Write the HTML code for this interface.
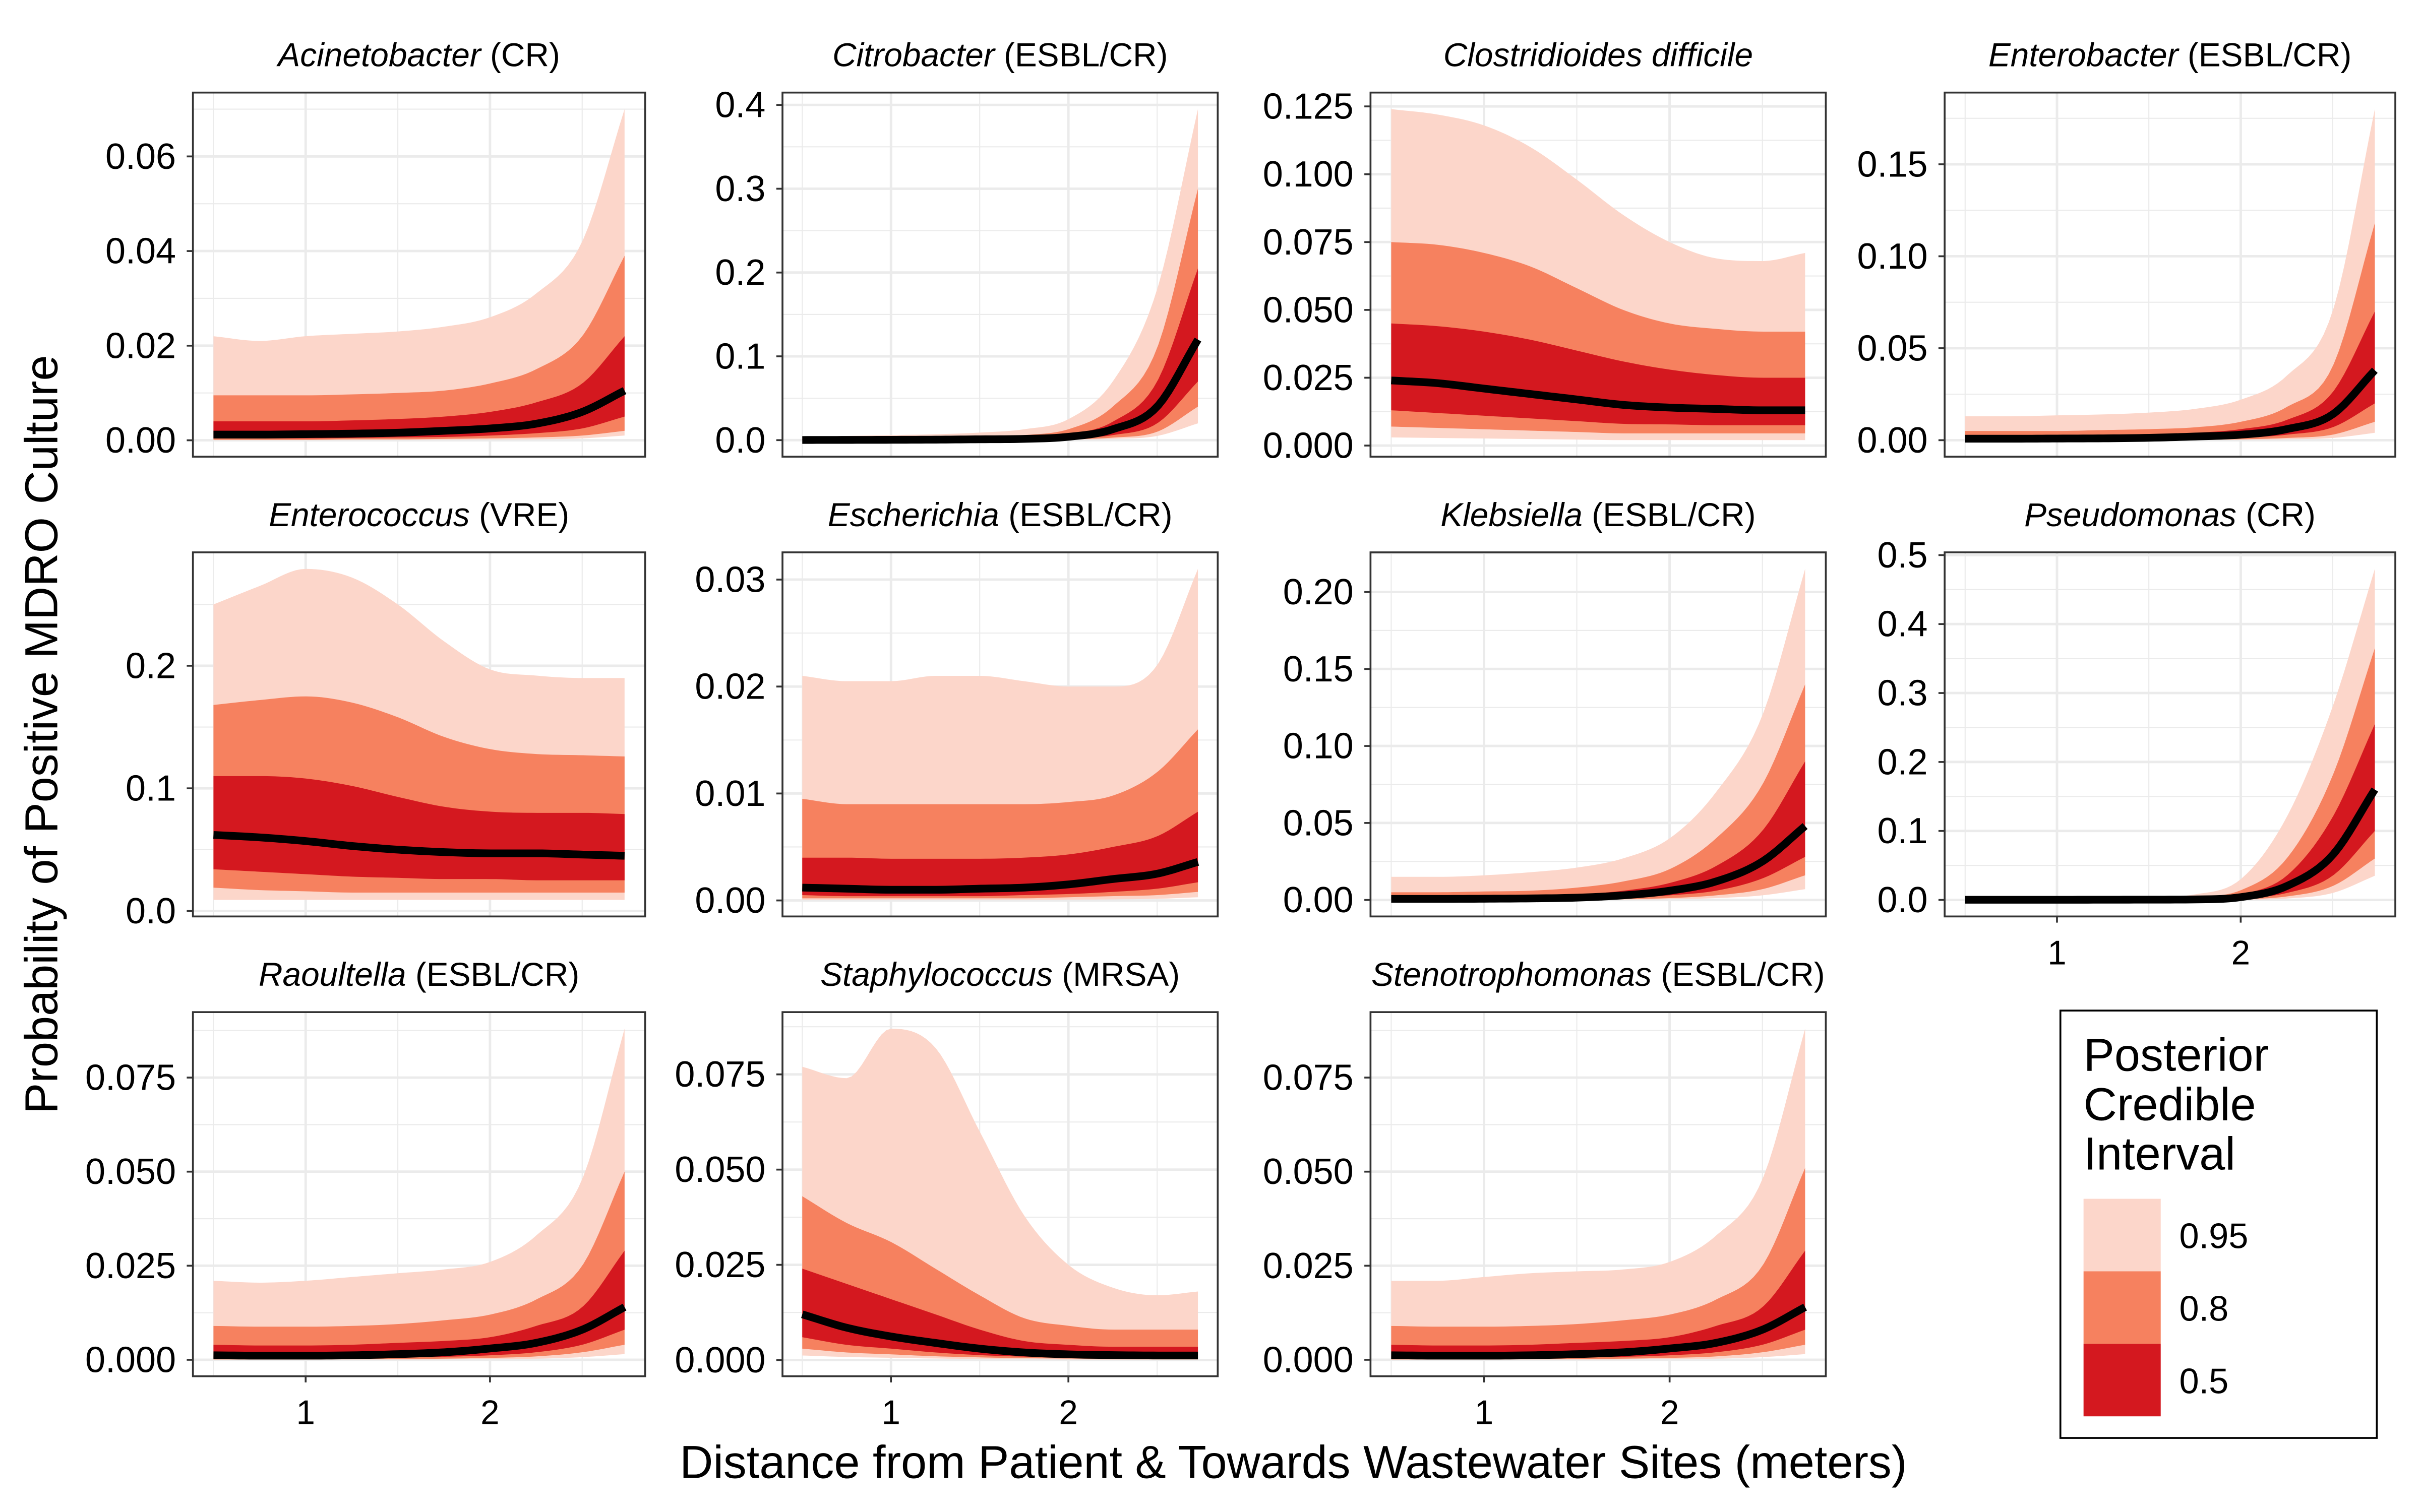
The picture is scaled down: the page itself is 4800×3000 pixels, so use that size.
<!DOCTYPE html>
<html><head><meta charset="utf-8"><style>
html,body{margin:0;padding:0;background:#fff}
svg{display:block}
text{font-family:"Liberation Sans",Arial,sans-serif;fill:#000}
</style></head><body>
<svg id="chart" width="4800" height="3000" viewBox="0 0 1568 980" xmlns="http://www.w3.org/2000/svg">
<rect x="0" y="0" width="1568" height="980" fill="#fff"/>
<g id="panels"></g>
<text transform="translate(37,476) rotate(-90)" text-anchor="middle" font-size="30">Probability of Positive MDRO Culture</text>
<text x="838" y="958" text-anchor="middle" font-size="30">Distance from Patient &amp; Towards Wastewater Sites (meters)</text>
<g>
<rect x="1335" y="655" width="205" height="277" fill="#fff" stroke="#000" stroke-width="1.2"/>
<text font-size="30" x="1350" y="694">Posterior</text>
<text font-size="30" x="1350" y="726">Credible</text>
<text font-size="30" x="1350" y="758">Interval</text>
<rect x="1350" y="777" width="50" height="47" fill="#FCD6CA"/>
<rect x="1350" y="824" width="50" height="47" fill="#F6815F"/>
<rect x="1350" y="871" width="50" height="47" fill="#D4181F"/>
<text x="1412" y="809" font-size="23">0.95</text>
<text x="1412" y="856" font-size="23">0.8</text>
<text x="1412" y="903" font-size="23">0.5</text>
</g>
</svg>
<script>
const xs = [0.5,0.75,1,1.25,1.5,1.75,2,2.25,2.5,2.73];
const genus = ["Acinetobacter","Citrobacter","Clostridioides difficile","Enterobacter","Enterococcus","Escherichia","Klebsiella","Pseudomonas","Raoultella","Staphylococcus","Stenotrophomonas"];
const suffix = [" (CR)"," (ESBL/CR)",""," (ESBL/CR)"," (VRE)"," (ESBL/CR)"," (ESBL/CR)"," (CR)"," (ESBL/CR)"," (MRSA)"," (ESBL/CR)"];
const hi95 = [
[0.022,0.021,0.022,0.0225,0.023,0.024,0.026,0.031,0.042,0.070],
[0.004,0.005,0.006,0.007,0.009,0.013,0.025,0.07,0.18,0.395],
[0.124,0.122,0.118,0.11,0.098,0.085,0.075,0.069,0.068,0.071],
[0.013,0.013,0.0135,0.014,0.015,0.017,0.022,0.035,0.07,0.18],
[0.25,0.265,0.279,0.272,0.25,0.22,0.197,0.192,0.19,0.19],
[0.021,0.0205,0.0205,0.021,0.021,0.0205,0.020,0.020,0.022,0.031],
[0.015,0.015,0.016,0.018,0.021,0.027,0.04,0.07,0.12,0.215],
[0.002,0.002,0.0025,0.003,0.004,0.008,0.03,0.12,0.28,0.48],
[0.021,0.0205,0.021,0.022,0.023,0.024,0.026,0.033,0.048,0.088],
[0.077,0.074,0.087,0.082,0.06,0.038,0.025,0.019,0.017,0.018],
[0.021,0.021,0.022,0.023,0.0235,0.024,0.026,0.033,0.048,0.088]];
const hi80 = [
[0.0095,0.0095,0.0095,0.0097,0.010,0.0105,0.012,0.015,0.022,0.039],
[0.001,0.0015,0.002,0.0025,0.0035,0.006,0.013,0.04,0.11,0.30],
[0.075,0.074,0.071,0.066,0.058,0.050,0.045,0.043,0.042,0.042],
[0.005,0.005,0.005,0.0055,0.006,0.007,0.01,0.018,0.04,0.118],
[0.168,0.172,0.175,0.17,0.158,0.142,0.132,0.128,0.127,0.126],
[0.0095,0.009,0.009,0.009,0.009,0.009,0.0092,0.0098,0.012,0.016],
[0.005,0.005,0.0055,0.006,0.008,0.012,0.02,0.04,0.075,0.14],
[0.0008,0.0008,0.001,0.0012,0.0018,0.004,0.014,0.06,0.18,0.365],
[0.009,0.0088,0.0088,0.009,0.0095,0.0105,0.012,0.016,0.025,0.050],
[0.043,0.036,0.031,0.024,0.017,0.011,0.009,0.008,0.008,0.008],
[0.009,0.0088,0.0088,0.009,0.0095,0.0105,0.012,0.016,0.025,0.051]];
const hi50 = [
[0.004,0.004,0.004,0.0042,0.0045,0.005,0.006,0.008,0.012,0.022],
[0.0005,0.0007,0.001,0.0012,0.002,0.003,0.007,0.022,0.07,0.205],
[0.045,0.044,0.042,0.039,0.035,0.031,0.028,0.026,0.025,0.025],
[0.002,0.002,0.002,0.0025,0.003,0.004,0.006,0.011,0.026,0.07],
[0.11,0.11,0.108,0.102,0.093,0.085,0.081,0.08,0.08,0.079],
[0.004,0.004,0.0039,0.0039,0.0039,0.004,0.0043,0.005,0.006,0.0083],
[0.002,0.002,0.002,0.0025,0.0035,0.006,0.011,0.022,0.045,0.09],
[0.0004,0.0004,0.0005,0.0006,0.001,0.002,0.008,0.035,0.12,0.255],
[0.004,0.0038,0.0038,0.004,0.0045,0.005,0.006,0.009,0.014,0.029],
[0.024,0.020,0.016,0.012,0.008,0.005,0.004,0.0035,0.0035,0.0035],
[0.004,0.0038,0.0038,0.004,0.0045,0.005,0.006,0.009,0.014,0.029]];
const med = [
[0.0012,0.0012,0.0013,0.0014,0.0016,0.002,0.0025,0.0035,0.006,0.0105],
[0.0002,0.0003,0.0004,0.0006,0.001,0.0015,0.004,0.013,0.04,0.12],
[0.024,0.023,0.021,0.019,0.017,0.015,0.014,0.0135,0.013,0.013],
[0.0008,0.0008,0.0009,0.001,0.0013,0.002,0.003,0.006,0.014,0.038],
[0.062,0.06,0.057,0.053,0.05,0.048,0.047,0.047,0.046,0.045],
[0.0012,0.0011,0.001,0.001,0.0011,0.0012,0.0015,0.002,0.0025,0.0036],
[0.0007,0.0007,0.0008,0.001,0.0015,0.003,0.006,0.012,0.025,0.048],
[0.0002,0.0002,0.0002,0.0003,0.0004,0.0007,0.004,0.02,0.065,0.16],
[0.0012,0.0011,0.0011,0.0012,0.0015,0.002,0.003,0.0045,0.008,0.014],
[0.012,0.0085,0.0062,0.0045,0.003,0.002,0.0015,0.0013,0.0012,0.0012],
[0.0012,0.0011,0.0011,0.0012,0.0015,0.002,0.003,0.0045,0.008,0.014]];
const lo50 = [
[0.0004,0.0004,0.0004,0.0005,0.0006,0.0007,0.001,0.0015,0.0025,0.005],
[0.0001,0.0001,0.0002,0.0002,0.0004,0.0006,0.002,0.006,0.02,0.07],
[0.013,0.012,0.011,0.010,0.009,0.008,0.0078,0.0075,0.0075,0.0075],
[0.0003,0.0003,0.0003,0.0004,0.0005,0.0008,0.0012,0.003,0.007,0.02],
[0.034,0.032,0.030,0.028,0.027,0.026,0.026,0.025,0.025,0.025],
[0.0005,0.0004,0.0004,0.0004,0.0004,0.0005,0.0006,0.0008,0.0011,0.0017],
[0.0003,0.0003,0.0003,0.0004,0.0006,0.0012,0.003,0.006,0.014,0.028],
[0.0001,0.0001,0.0001,0.0001,0.0002,0.0003,0.002,0.01,0.035,0.10],
[0.0004,0.0004,0.0004,0.0005,0.0006,0.0008,0.0012,0.002,0.004,0.008],
[0.006,0.004,0.003,0.002,0.0013,0.0009,0.0007,0.0006,0.0005,0.0005],
[0.0004,0.0004,0.0004,0.0005,0.0006,0.0008,0.0012,0.002,0.004,0.008]];
const lo80 = [
[0.0001,0.0001,0.0001,0.0002,0.0002,0.0003,0.0004,0.0006,0.001,0.002],
[0.00005,0.00005,0.0001,0.0001,0.0002,0.0003,0.001,0.003,0.01,0.04],
[0.007,0.0065,0.006,0.0055,0.005,0.0045,0.0045,0.0045,0.0045,0.0045],
[0.0001,0.0001,0.0001,0.0002,0.0002,0.0003,0.0005,0.0012,0.003,0.01],
[0.019,0.017,0.016,0.015,0.015,0.015,0.015,0.015,0.015,0.015],
[0.0002,0.0002,0.0002,0.0002,0.0002,0.0002,0.0003,0.0004,0.0005,0.0008],
[0.0001,0.0001,0.0001,0.0002,0.0003,0.0005,0.0012,0.003,0.007,0.016],
[0.00005,0.00005,0.00005,0.00005,0.0001,0.0002,0.001,0.005,0.02,0.06],
[0.0001,0.0001,0.0001,0.0002,0.0002,0.0003,0.0005,0.0009,0.002,0.004],
[0.003,0.002,0.0015,0.001,0.0007,0.0005,0.0004,0.0003,0.0003,0.0003],
[0.0001,0.0001,0.0001,0.0002,0.0002,0.0003,0.0005,0.0009,0.002,0.004]];
const lo95 = [
[0.00003,0.00003,0.00003,0.00005,0.00006,0.0001,0.00015,0.0002,0.0004,0.001],
[0.00001,0.00001,0.00002,0.00003,0.00005,0.0001,0.0005,0.0015,0.005,0.02],
[0.003,0.0028,0.0026,0.0024,0.0022,0.002,0.002,0.002,0.002,0.002],
[0.00003,0.00003,0.00003,0.00005,0.00006,0.0001,0.0002,0.0005,0.0012,0.004],
[0.009,0.009,0.009,0.009,0.009,0.009,0.009,0.009,0.009,0.009],
[0.00005,0.00005,0.00005,0.00005,0.00005,0.00006,0.00008,0.0001,0.00015,0.0003],
[0.00003,0.00003,0.00003,0.00005,0.0001,0.0002,0.0005,0.0012,0.003,0.007],
[0.00001,0.00001,0.00001,0.00001,0.00003,0.00005,0.0003,0.002,0.01,0.035],
[0.00003,0.00003,0.00003,0.00005,0.00006,0.0001,0.0002,0.0003,0.0007,0.0015],
[0.0012,0.0008,0.0006,0.0004,0.0003,0.0002,0.00015,0.0001,0.0001,0.0001],
[0.00003,0.00003,0.00003,0.00005,0.00006,0.0001,0.0002,0.0003,0.0007,0.0015]];
const yTicks = [
[0,0.02,0.04,0.06],[0,0.1,0.2,0.3,0.4],[0,0.025,0.05,0.075,0.1,0.125],[0,0.05,0.10,0.15],
[0,0.1,0.2],[0,0.01,0.02,0.03],[0,0.05,0.10,0.15,0.20],[0,0.1,0.2,0.3,0.4,0.5],
[0,0.025,0.05,0.075],[0,0.025,0.05,0.075],[0,0.025,0.05,0.075]];
const yDigits = [2,1,3,2,1,2,2,1,3,3,3];
const xTicks = [1,2];
const xTickLabels = ["1","2"];

const colL = [125,507,888,1260], colR = [418,789,1183,1552];
const rowT = [60,358,656], PH = 236;
const NS = "http://www.w3.org/2000/svg";
const root = document.getElementById('panels');
function mk(tag, attrs, parent){const e=document.createElementNS(NS,tag);for(const k in attrs)e.setAttribute(k,attrs[k]);(parent||root).appendChild(e);return e;}
const xMin=0.5, xMax=2.73, xr=xMax-xMin, xd0=xMin-0.05*xr, xd1=xMax+0.05*xr;

function monotone(X,Y){
  const n=X.length, d=[], m=new Array(n);
  for(let i=0;i<n-1;i++) d.push((Y[i+1]-Y[i])/(X[i+1]-X[i]));
  m[0]=d[0]; m[n-1]=d[n-2];
  for(let i=1;i<n-1;i++){ m[i]=(d[i-1]*d[i]<=0)?0:(d[i-1]+d[i])/2; }
  for(let i=0;i<n-1;i++){
    if(d[i]===0){m[i]=0;m[i+1]=0;continue;}
    const a=m[i]/d[i], b=m[i+1]/d[i], s=a*a+b*b;
    if(s>9){const t=3/Math.sqrt(s); m[i]=t*a*d[i]; m[i+1]=t*b*d[i];}
  }
  return x=>{
    let i=0; while(i<n-2 && x>X[i+1]) i++;
    const h=X[i+1]-X[i], t=(x-X[i])/h, t2=t*t, t3=t2*t;
    return (2*t3-3*t2+1)*Y[i]+(t3-2*t2+t)*h*m[i]+(-2*t3+3*t2)*Y[i+1]+(t3-t2)*h*m[i+1];
  };
}
const NSAMP=80;
const sampX=[]; for(let k=0;k<=NSAMP;k++) sampX.push(xMin+(xMax-xMin)*k/NSAMP);

for(let p=0;p<11;p++){
  const r=Math.floor(p/4), c=p%4;
  const L=colL[c], R=colR[c], T=rowT[r], B=T+PH;
  let ymin=Math.min(...lo95[p]), ymax=Math.max(...hi95[p]);
  const yr=ymax-ymin; const y0=ymin-0.05*yr, y1=ymax+0.05*yr;
  const sx=v=>L+(v-xd0)/(xd1-xd0)*(R-L);
  const sy=v=>B-(v-y0)/(y1-y0)*PH;
  const g=mk('g',{});
  
  
  mk('rect',{x:L,y:T,width:R-L,height:PH,fill:'#fff'},g);
  const clip=mk('clipPath',{id:'cp'+p},g); mk('rect',{x:L,y:T,width:R-L,height:PH},clip);
  const gg=mk('g',{'clip-path':'url(#cp'+p+')'},g);
  const yt=yTicks[p], step=yt[1]-yt[0];
  for(let v=yt[0]-step/2; v<=y1; v+=step){ if(v<y0) continue; mk('line',{x1:L,x2:R,y1:sy(v),y2:sy(v),stroke:'#EBEBEB','stroke-width':0.7},gg);}
  [0.5,1.5,2.5].forEach(v=>mk('line',{x1:sx(v),x2:sx(v),y1:T,y2:B,stroke:'#EBEBEB','stroke-width':0.7},gg));
  yt.forEach(v=>mk('line',{x1:L,x2:R,y1:sy(v),y2:sy(v),stroke:'#EBEBEB','stroke-width':1.6},gg));
  xTicks.forEach(v=>mk('line',{x1:sx(v),x2:sx(v),y1:T,y2:B,stroke:'#EBEBEB','stroke-width':1.6},gg));
  const curve=arr=>{const f=monotone(xs,arr[p]); return sampX.map(x=>[sx(x),sy(f(x))]);};
  const band=(lo,hi,col,name)=>{
    const top=curve(hi), bot=curve(lo).reverse();
    const d='M'+top.concat(bot).map(q=>q[0].toFixed(2)+','+q[1].toFixed(2)).join('L')+'Z';
    const e=mk('path',{d:d,fill:col},gg);
    
    
  };
  band(lo95,hi95,'#FCD6CA','band-95');
  band(lo80,hi80,'#F6815F','band-80');
  band(lo50,hi50,'#D4181F','band-50');
  const mc=curve(med);
  const ml=mk('path',{d:'M'+mc.map(q=>q[0].toFixed(2)+','+q[1].toFixed(2)).join('L'),fill:'none',stroke:'#000','stroke-width':5,'stroke-linejoin':'round'},gg);
  
  
  mk('rect',{x:L,y:T,width:R-L,height:PH,fill:'none',stroke:'#333','stroke-width':1.2},g);
  yt.forEach(v=>{
    mk('line',{x1:L-4,x2:L,y1:sy(v),y2:sy(v),stroke:'#333','stroke-width':1.2},g);
    const t=mk('text',{x:L-11,y:sy(v)+8,'text-anchor':'end','font-size':23.5,fill:'#000'},g);
    t.textContent=v.toFixed(yDigits[p]);
    
    
  });
  if(r===2 || p===7){
    xTicks.forEach((v,i)=>{
      mk('line',{x1:sx(v),x2:sx(v),y1:B,y2:B+4,stroke:'#333','stroke-width':1.2},g);
      const t=mk('text',{x:sx(v),y:B+31,'text-anchor':'middle','font-size':22},g);
      t.textContent=xTickLabels[i];
      
      
    });
  }
  const st=mk('text',{x:(L+R)/2,y:T-17,'text-anchor':'middle','font-size':21.5},g);
  
  
  const ts=mk('tspan',{'font-style':'italic'},st); ts.textContent=genus[p];
  if(suffix[p]){const t2=mk('tspan',{},st); t2.textContent=suffix[p];}
}
</script>
</body></html>
